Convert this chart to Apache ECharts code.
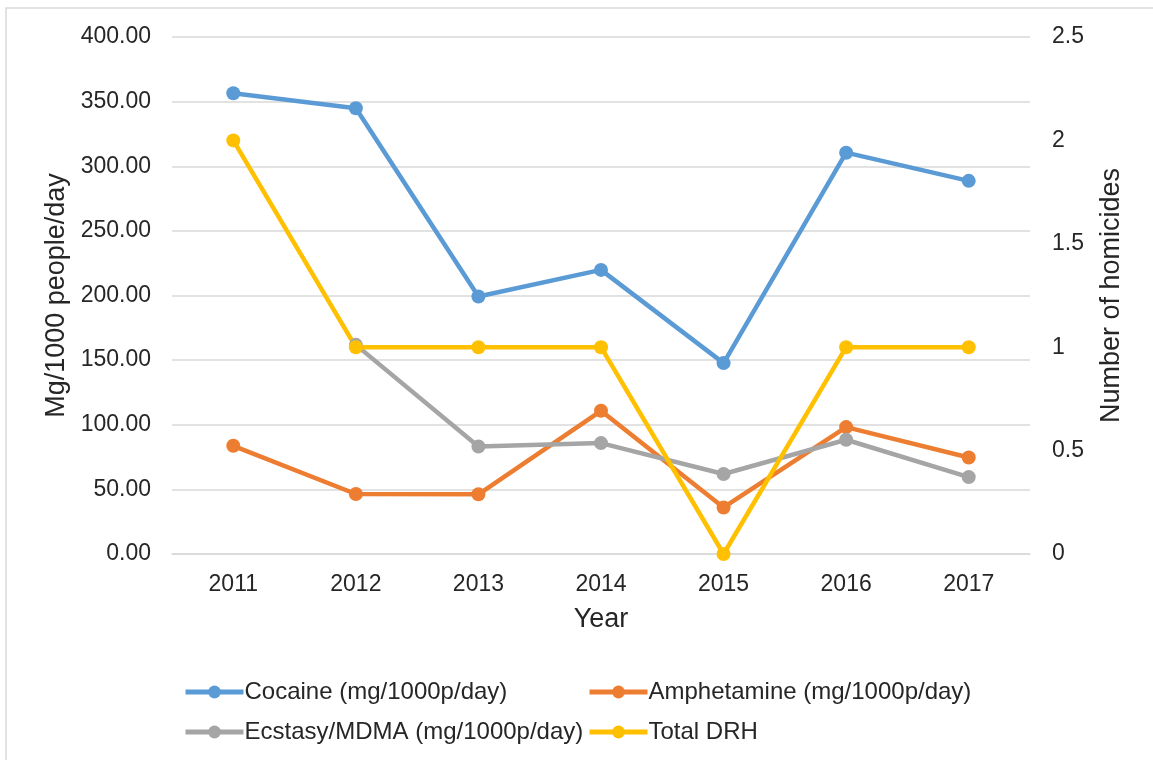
<!DOCTYPE html>
<html>
<head>
<meta charset="utf-8">
<script src="https://cdn.jsdelivr.net/npm/echarts@6/dist/echarts.min.js"></script>
<style>
  html, body { margin: 0; padding: 0; background: #fff; }
  #chart { width: 1153px; height: 760px; }
</style>
</head>
<body>
<div id="chart"></div>
<script>
// Wastewater drug loads (mg/1000 people/day) and drug-related homicides per year
const years = ['2011', '2012', '2013', '2014', '2015', '2016', '2017'];
const cocaine = [356.5, 344.9, 199.2, 219.8, 147.7, 310.5, 288.7];
const amphetamine = [83.7, 46.4, 46.2, 110.8, 36.0, 98.2, 74.7];
const ecstasy = [null, 161.8, 83.2, 85.8, 61.9, 88.4, 59.5];
const totalDRH = [2, 1, 1, 1, 0, 1, 1];

const seriesNames = [
  'Cocaine (mg/1000p/day)',
  'Amphetamine (mg/1000p/day)',
  'Ecstasy/MDMA (mg/1000p/day)',
  'Total DRH'
];
const colors = ['#5B9BD5', '#ED7D31', '#A5A5A5', '#FFC000'];

const FONT = '"Liberation Sans", Arial, sans-serif';
const TEXT = '#262626';
const GRID = '#D9D9D9';

function lineSeries(name, data, color, yAxisIndex) {
  return {
    name: name,
    type: 'line',
    yAxisIndex: yAxisIndex,
    data: data,
    symbol: 'circle',
    symbolSize: 14,
    connectNulls: false,
    lineStyle: { width: 4.5, color: color },
    itemStyle: { color: color },
    emphasis: { disabled: true },
    animation: false
  };
}

const legendBase = {
  orient: 'vertical',
  top: 675,
  itemWidth: 58, itemHeight: 16, itemGap: 16,
  lineStyle: { width: 5 },
  textStyle: { fontFamily: FONT, fontSize: 24, color: TEXT, padding: [0, 0, 0, -4] },
  selectedMode: false
};

const chart = echarts.init(document.getElementById('chart'), null, { renderer: 'canvas' });
chart.setOption({
  backgroundColor: '#fff',
  animation: false,
  graphic: [{
    type: 'rect',
    shape: { x: 6, y: 8, width: 1300, height: 900 },
    style: { fill: 'none', stroke: GRID, lineWidth: 1.5 },
    silent: true,
    z: -10
  }],
  grid: { left: 172, right: 123, top: 37, bottom: 206, containLabel: false },
  legend: [
    Object.assign({}, legendBase, { data: [seriesNames[0], seriesNames[2]], left: 178 }),
    Object.assign({}, legendBase, { data: [seriesNames[1], seriesNames[3]], left: 582 })
  ],
  xAxis: {
    type: 'category',
    data: years,
    boundaryGap: true,
    name: 'Year',
    nameLocation: 'middle',
    nameGap: 52,
    nameTextStyle: { fontFamily: FONT, fontSize: 27, color: TEXT },
    axisLine: { show: true, lineStyle: { color: GRID, width: 1.5 } },
    axisTick: { show: false },
    axisLabel: { fontFamily: FONT, fontSize: 23, color: TEXT, margin: 19 }
  },
  yAxis: [
    {
      type: 'value',
      min: 0, max: 400, interval: 50,
      name: 'Mg/1000 people/day',
      nameLocation: 'middle',
      nameGap: 102,
      nameTextStyle: { fontFamily: FONT, fontSize: 27, color: TEXT },
      axisLine: { show: false },
      axisTick: { show: false },
      splitLine: { lineStyle: { color: GRID, width: 1.5 } },
      axisLabel: {
        fontFamily: FONT, fontSize: 23, color: TEXT, margin: 21,
        formatter: v => v.toFixed(2)
      }
    },
    {
      type: 'value',
      min: 0, max: 2.5, interval: 0.5,
      position: 'right',
      name: 'Number of homicides',
      nameLocation: 'middle',
      nameGap: 68,
      nameRotate: 90,
      nameTextStyle: { fontFamily: FONT, fontSize: 27, color: TEXT },
      axisLine: { show: false },
      axisTick: { show: false },
      splitLine: { show: false },
      axisLabel: { fontFamily: FONT, fontSize: 23, color: TEXT, margin: 22 }
    }
  ],
  series: [
    lineSeries(seriesNames[0], cocaine, colors[0], 0),
    lineSeries(seriesNames[1], amphetamine, colors[1], 0),
    lineSeries(seriesNames[2], ecstasy, colors[2], 0),
    lineSeries(seriesNames[3], totalDRH, colors[3], 1)
  ]
});
</script>
</body>
</html>
